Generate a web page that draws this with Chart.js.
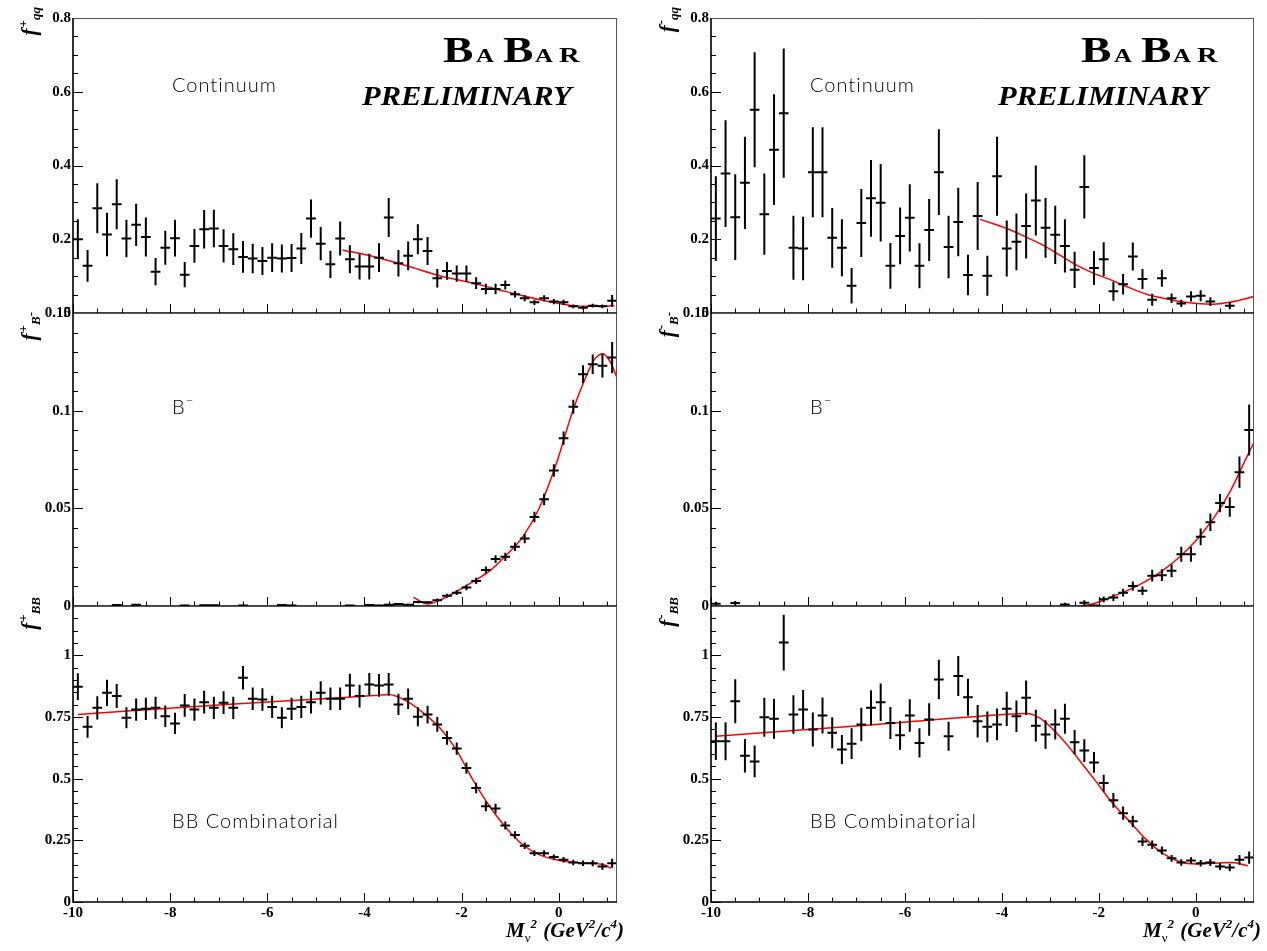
<!DOCTYPE html>
<html><head><meta charset="utf-8">
<script src="https://cdn.jsdelivr.net/npm/chart.js@4.4.1/dist/chart.umd.min.js"></script>
<style>
html,body{margin:0;padding:0;background:#fff;}
#wrap{position:relative;width:1267px;height:951px;overflow:hidden;background:#fff;}
#wrap canvas{position:absolute;left:0;top:0;}
</style></head>
<body><div id="wrap"></div>
<script>
// ---------------- DATA ----------------
const binCenters = [-9.9,-9.7,-9.5,-9.3,-9.1,-8.9,-8.7,-8.5,-8.3,-8.1,-7.9,-7.7,-7.5,-7.3,-7.1,-6.9,-6.7,-6.5,-6.3,-6.1,-5.9,-5.7,-5.5,-5.3,-5.1,-4.9,-4.7,-4.5,-4.3,-4.1,-3.9,-3.7,-3.5,-3.3,-3.1,-2.9,-2.7,-2.5,-2.3,-2.1,-1.9,-1.7,-1.5,-1.3,-1.1,-0.9,-0.7,-0.5,-0.3,-0.1,0.1,0.3,0.5,0.7,0.9,1.1];
const binHalfWidth = 0.1;

const xTickValues = [-10,-8,-6,-4,-2,0];
const yTicksQQ = [0,0.2,0.4,0.6,0.8];
const yTicksB = [0,0.05,0.1,0.15];
const yTicksBB = [0,0.25,0.5,0.75,1];

// f+qq (continuum, left)
const qqPlusVal = [0.200,0.128,0.284,0.213,0.295, 0.202,0.239,0.206,0.112,0.177, 0.203,0.104,0.182,0.227,0.229, 0.182,0.173,0.152,0.148,0.141, 0.150,0.148,0.149,0.175,0.256, 0.188,0.132,0.202,0.146,0.126, 0.126,0.150,0.259,0.135,0.155, 0.200,0.168,0.094,0.114,0.107, 0.107,0.081,0.065,0.065,0.076, 0.051,0.040,0.029,0.040,0.031, 0.029,0.018,0.014,0.020,0.018, 0.033];
const qqPlusErr = [0.054,0.043,0.068,0.059,0.068, 0.051,0.057,0.053,0.037,0.046, 0.050,0.034,0.046,0.052,0.051, 0.045,0.043,0.043,0.040,0.038, 0.039,0.038,0.038,0.042,0.052, 0.045,0.037,0.046,0.038,0.035, 0.035,0.039,0.053,0.036,0.039, 0.041,0.038,0.025,0.024,0.022, 0.022,0.016,0.014,0.014,0.012, 0.009,0.008,0.007,0.008,0.007, 0.007,0.005,0.005,0.005,0.005, 0.016];
const qqPlusFitX = [-4.45,-3.82,-3.13,-2.45,-1.77,-1.08,-0.39,0.29,0.57,0.9,1.15];
const qqPlusFitY = [0.171,0.153,0.128,0.101,0.081,0.058,0.036,0.020,0.018,0.018,0.020];

// f-qq (continuum, right)
const qqMinusVal = [0.256,0.378,0.260,0.353,0.551, 0.268,0.443,0.542,0.177,0.175, 0.382,0.382,0.204,0.177,0.074, 0.244,0.311,0.299,0.128,0.209, 0.258,0.128,0.225,0.382,0.179, 0.247,0.103,0.263,0.101,0.371, 0.175,0.193,0.236,0.305,0.231, 0.212,0.182,0.117,0.342,0.122, 0.146,0.059,0.078,0.153,0.092, 0.036,0.094,0.040,0.026,0.045, 0.047,0.031,null,0.020,null, null];
const qqMinusErr = [0.115,0.145,0.116,0.125,0.156, 0.110,0.150,0.175,0.087,0.086, 0.122,0.122,0.081,0.077,0.048, 0.092,0.104,0.105,0.062,0.077, 0.091,0.061,0.084,0.116,0.085, 0.093,0.055,0.092,0.054,0.107, 0.076,0.077,0.088,0.095,0.081, 0.079,0.072,0.049,0.086,0.046, 0.046,0.026,0.028,0.038,0.027, 0.016,0.023,0.013,0.010,0.014, 0.015,0.012,null,0.010,null, null];
const qqMinusFitX = [-4.45,-3.86,-3.52,-3.18,-2.83,-2.49,-2.15,-1.70,-1.36,-1.02,-0.67,-0.33,0.01,0.36,0.70,1.07,1.2];
const qqMinusFitY = [0.254,0.227,0.207,0.186,0.159,0.132,0.110,0.087,0.068,0.051,0.040,0.031,0.026,0.024,0.029,0.040,0.045];

// f+B- (left middle)
const bPlusVal = [null,null,null,null,0.0005, null,0.0006,null,null,null, null,0.0003,null,0.0004,0.0004, null,null,0.0003,null,null, null,0.0005,0.0003,null,null, null,null,null,0.0002,null, 0.0005,0.0003,0.0007,0.0010,0.0007, 0.0020,0.0019,0.0030,0.0053,0.0068, 0.0095,0.0128,0.0184,0.0240,0.0252, 0.0303,0.0345,0.0456,0.0546,0.0694, 0.0859,0.1020,0.1187,0.1238,0.1230, 0.1272];
const bPlusErr = [null,null,null,null,0.0004, null,0.0004,null,null,null, null,0.0003,null,0.0003,0.0003, null,null,0.0003,null,null, null,0.0004,0.0003,null,null, null,null,null,0.0002,null, 0.0004,0.0003,0.0004,0.0005,0.0004, 0.0006,0.0006,0.0008,0.0010,0.0012, 0.0014,0.0016,0.0018,0.0020,0.0021, 0.0022,0.0024,0.0027,0.0030,0.0032, 0.0034,0.0036,0.0045,0.0050,0.0060, 0.0080];
const bPlusFitX = [-2.99,-2.7,-2.45,-2.11,-1.77,-1.42,-1.08,-0.74,-0.39,-0.05,0.29,0.57,0.74,0.91,1.05,1.2];
const bPlusFitY = [0.0044,0.0010,0.0030,0.0073,0.0124,0.0180,0.0260,0.0354,0.0507,0.0728,0.1000,0.1179,0.1264,0.1292,0.1255,0.1170];

// f-B- (right middle)
const bMinusVal = [0.0012,null,0.0015,null,null, null,null,null,null,null, null,null,null,null,null, null,null,null,null,null, null,null,null,null,null, null,null,null,null,null, null,null,null,null,null, null,0.0008,null,0.0017,0.0002, 0.0034,0.0043,0.0068,0.0102,0.0078, 0.0155,0.0158,0.0180,0.0265,0.0265, 0.0354,0.0429,0.0527,0.0507,0.0685, 0.0901];
const bMinusErr = [0.0010,null,0.0010,null,null, null,null,null,null,null, null,null,null,null,null, null,null,null,null,null, null,null,null,null,null, null,null,null,null,null, null,null,null,null,null, null,0.0008,null,0.0012,0.0006, 0.0015,0.0017,0.0020,0.0024,0.0022, 0.0030,0.0030,0.0033,0.0038,0.0038, 0.0043,0.0045,0.0047,0.0050,0.0080, 0.0130];
const bMinusFitX = [-2.45,-2.05,-1.70,-1.36,-1.02,-0.67,-0.33,0.01,0.36,0.70,1.05,1.2];
const bMinusFitY = [-0.0005,0.0017,0.0051,0.0085,0.0129,0.0184,0.0252,0.0337,0.0447,0.0583,0.0762,0.0838];

// f+BB (left bottom)
const bbPlusVal = [0.873,0.710,0.787,0.848,0.835, 0.747,0.780,0.783,0.787,0.753, 0.724,0.797,0.780,0.810,0.787, 0.808,0.787,0.909,0.824,0.821, 0.791,0.747,0.783,0.791,0.810, 0.848,0.824,0.824,0.878,0.835, 0.882,0.878,0.882,0.801,0.824, 0.751,0.760,0.720,0.665,0.622, 0.543,0.462,0.388,0.379,0.310, 0.272,0.228,0.198,0.198,0.182, 0.171,0.160,0.157,0.157,0.144, 0.157];
const bbPlusErr = [0.054,0.044,0.047,0.053,0.049, 0.043,0.045,0.045,0.045,0.044, 0.043,0.046,0.045,0.046,0.045, 0.046,0.045,0.048,0.046,0.046, 0.045,0.043,0.045,0.045,0.046, 0.047,0.046,0.046,0.047,0.046, 0.046,0.046,0.046,0.043,0.042, 0.039,0.036,0.030,0.028,0.025, 0.023,0.021,0.020,0.019,0.016, 0.015,0.013,0.012,0.012,0.011, 0.011,0.011,0.011,0.012,0.013, 0.018];
const bbPlusFitX = [-9.9,-6.84,-4.5,-3.82,-3.5,-3.13,-2.79,-2.45,-2.11,-1.77,-1.42,-1.08,-0.74,-0.39,-0.05,0.29,0.63,0.91,1.08];
const bbPlusFitY = [0.760,0.801,0.828,0.837,0.841,0.814,0.767,0.706,0.618,0.496,0.387,0.300,0.232,0.191,0.171,0.161,0.157,0.152,0.137];

// f-BB (right bottom)
const bbMinusVal = [0.652,0.652,0.814,0.593,0.570, 0.749,0.743,1.052,0.760,0.780, 0.699,0.756,0.686,0.618,0.642, 0.720,0.787,0.810,0.726,0.676, 0.756,0.645,0.740,0.902,0.672, 0.916,0.830,0.733,0.710,0.720, 0.783,0.753,0.828,0.715,0.679, 0.720,0.743,0.648,0.614,0.566, 0.482,0.412,0.360,0.327,0.245, 0.232,0.209,0.177,0.160,0.168, 0.157,0.160,0.144,0.140,0.171, 0.180];
const bbMinusErr = [0.076,0.077,0.089,0.068,0.064, 0.079,0.081,0.113,0.078,0.079, 0.069,0.073,0.063,0.059,0.062, 0.068,0.071,0.076,0.065,0.059, 0.066,0.059,0.066,0.080,0.059, 0.081,0.075,0.066,0.062,0.064, 0.069,0.064,0.070,0.064,0.058, 0.061,0.061,0.049,0.046,0.042, 0.034,0.030,0.027,0.023,0.018, 0.017,0.016,0.014,0.013,0.013, 0.013,0.014,0.014,0.015,0.020, 0.025];
const bbMinusFitX = [-9.9,-6.79,-4.45,-3.5,-3.2,-2.75,-2.41,-2.06,-1.72,-1.37,-1.03,-0.69,-0.34,0.00,0.35,0.76,1.07];
const bbMinusFitY = [0.672,0.717,0.753,0.764,0.743,0.659,0.577,0.489,0.401,0.327,0.255,0.198,0.164,0.154,0.157,0.160,0.146];

// ---------------- RENDERING ----------------
const W = 1267, H = 951, AXW = 60, AXH = 24;
const SERIF = '"Liberation Serif","Times New Roman",serif';
const LIGHT = '300 20px Lato, "Open Sans", Roboto, sans-serif';

function makeErrorData(vals, errs) {
  const v = [], h = [];
  binCenters.forEach((x, i) => {
    const y = vals[i], e = errs[i];
    if (y === null || y === undefined) return;
    v.push({x: x, y: y - e}, {x: x, y: y + e}, {x: x, y: null});
    h.push({x: x - binHalfWidth, y: y}, {x: x + binHalfWidth, y: y}, {x: x + binHalfWidth, y: null});
  });
  return {v, h};
}
function zip(xs, ys) { return xs.map((x, i) => ({x: x, y: ys[i]})); }
function fmtTick(v) { return String(Math.round(v * 10000) / 10000); }

function drawPieces(ctx, x, y, pieces) {
  let cx = x;
  for (const p of pieces) {
    ctx.font = p.f;
    ctx.fillText(p.t, cx + (p.dx || 0), y + (p.dy || 0));
    cx += ctx.measureText(p.t).width + (p.dx || 0) + (p.after || 0);
  }
  return cx - x;
}
function measurePieces(ctx, pieces) {
  let w = 0;
  for (const p of pieces) { ctx.font = p.f; w += ctx.measureText(p.t).width + (p.dx || 0) + (p.after || 0); }
  return w;
}
function stretchText(ctx, txt, font, x, y, sx) {
  ctx.save(); ctx.font = font; ctx.translate(x, y); ctx.scale(sx, 1); ctx.fillText(txt, 0, 0); ctx.restore();
}

const rootFrame = {
  id: 'rootFrame',
  afterDraw(chart, args, o) {
    const ctx = chart.ctx, a = chart.chartArea, xs = chart.scales.x, ys = chart.scales.y;
    ctx.save();
    // ticks
    ctx.strokeStyle = '#000'; ctx.lineWidth = 1;
    ctx.beginPath();
    for (let v = -10; v <= 1.2001; v += 0.5) {
      const major = Math.abs(v / 2 - Math.round(v / 2)) < 1e-6;
      const px = Math.round(xs.getPixelForValue(v)) + 0.5;
      ctx.moveTo(px, a.bottom); ctx.lineTo(px, a.bottom - (major ? 9 : 4.5));
    }
    const n = Math.round((o.yMax - o.yMin) / o.yMinor);
    for (let k = 0; k <= n; k++) {
      const v = o.yMin + k * o.yMinor;
      const major = o.yTicks.some(t => Math.abs(t - v) < 1e-9);
      const py = Math.round(ys.getPixelForValue(v)) + 0.5;
      ctx.moveTo(a.left, py); ctx.lineTo(a.left + (major ? 10 : 5), py);
    }
    ctx.stroke();
    // frame
    ctx.strokeStyle = '#555'; ctx.lineWidth = 1;
    ctx.beginPath();
    ctx.moveTo(a.left, a.top + 0.5); ctx.lineTo(a.right, a.top + 0.5);
    ctx.moveTo(a.right - 0.5, a.top); ctx.lineTo(a.right - 0.5, a.bottom);
    ctx.stroke();
    ctx.strokeStyle = '#000'; ctx.lineWidth = 1.6;
    ctx.beginPath();
    ctx.moveTo(a.left, a.top); ctx.lineTo(a.left, a.bottom); ctx.lineTo(a.right, a.bottom);
    ctx.stroke();

    ctx.fillStyle = '#000';
    // y-axis title (rotated)
    if (o.ytitle) {
      const tw = measurePieces(ctx, o.ytitle);
      ctx.save();
      ctx.translate(o.ytitleX, o.ytitleTop + tw);
      ctx.rotate(-Math.PI / 2);
      ctx.textBaseline = 'alphabetic'; ctx.textAlign = 'left';
      drawPieces(ctx, 0, 0, o.ytitle);
      ctx.restore();
    }
    // panel label
    if (o.label) {
      ctx.save();
      ctx.textBaseline = 'middle'; ctx.textAlign = 'left';
      ctx.letterSpacing = '1px';
      drawPieces(ctx, a.left + o.labelDx, o.labelY, o.label);
      ctx.restore();
    }
    // BABAR logo
    if (o.logo) {
      ctx.textBaseline = 'alphabetic'; ctx.textAlign = 'left';
      const L = a.left, big = 'bold 35px ' + SERIF, small = 'bold 19px ' + SERIF;
      stretchText(ctx, 'B', big, L + 370, 62, 1.3);
      stretchText(ctx, 'A', small, L + 403, 62, 1.3);
      stretchText(ctx, 'B', big, L + 430, 62, 1.3);
      stretchText(ctx, 'A', small, L + 462, 62, 1.3);
      stretchText(ctx, 'R', 'bold 22px ' + SERIF, L + 486, 62, 1.3);
      stretchText(ctx, 'PRELIMINARY', 'italic bold 28px ' + SERIF, L + o.prelDx, 105, 1.09);
    }
    // x-axis title
    if (o.xtitle) {
      ctx.textBaseline = 'alphabetic'; ctx.textAlign = 'left';
      const bi = 'italic bold 21px ' + SERIF, sm = 'italic bold 13px ' + SERIF;
      const pieces = [
        {t: 'M', f: bi}, {t: 'ν', f: '13px ' + SERIF, dy: 5}, {t: '2', f: sm, dy: -9, after: 1},
        {t: ' (GeV', f: bi}, {t: '2', f: sm, dy: -9}, {t: '/c', f: bi}, {t: '4', f: sm, dy: -9}, {t: ')', f: bi}
      ];
      const tw = measurePieces(ctx, pieces);
      drawPieces(ctx, a.right + 7 - tw, 937, pieces);
    }
    ctx.restore();
  }
};

const fBig = 'italic bold 21px ' + SERIF, fSup = 'bold 13px ' + SERIF, fSub = 'italic bold 13px ' + SERIF;
function yTitle(sign, sub) {
  const p = [{t: 'f', f: fBig, after: 1}, {t: sign, f: fSup, dy: -9}];
  if (sub === 'B-') { p.push({t: 'B', f: fSub, dy: 4}, {t: '-', f: fSup, dy: -1}); }
  else p.push({t: sub, f: fSub, dy: 4});
  return p;
}

const COLS = {L: {left: 73, right: 617, sign: '+'}, R: {left: 711, right: 1254, sign: '-'}};
const ROWS = {
  top: {top: 18, bottom: 313, min: 0, max: 0.8, ticks: yTicksQQ, minor: 0.05, tTop: 7},
  mid: {top: 313, bottom: 606, min: 0, max: 0.15, ticks: yTicksB, minor: 0.01, tTop: 312},
  bot: {top: 606, bottom: 902, min: 0, max: 1.2, ticks: yTicksBB, minor: 0.05, tTop: 597}
};

const MINUS_SUP = {t: '−', f: '300 13px Lato, sans-serif', dy: -7};
const panels = [
  {col: 'L', row: 'top', vals: qqPlusVal, errs: qqPlusErr, fx: qqPlusFitX, fy: qqPlusFitY, sub: 'qq', label: [{t: 'Continuum', f: LIGHT}], labelY: 86, logo: true},
  {col: 'R', row: 'top', vals: qqMinusVal, errs: qqMinusErr, fx: qqMinusFitX, fy: qqMinusFitY, sub: 'qq', label: [{t: 'Continuum', f: LIGHT}], labelY: 86, logo: true},
  {col: 'L', row: 'mid', vals: bPlusVal, errs: bPlusErr, fx: bPlusFitX, fy: bPlusFitY, sub: 'B-', label: [{t: 'B', f: LIGHT}, MINUS_SUP], labelY: 408},
  {col: 'R', row: 'mid', vals: bMinusVal, errs: bMinusErr, fx: bMinusFitX, fy: bMinusFitY, sub: 'B-', label: [{t: 'B', f: LIGHT}, MINUS_SUP], labelY: 408},
  {col: 'L', row: 'bot', vals: bbPlusVal, errs: bbPlusErr, fx: bbPlusFitX, fy: bbPlusFitY, sub: 'BB', label: [{t: 'BB Combinatorial', f: LIGHT}], labelY: 822, xtitle: true},
  {col: 'R', row: 'bot', vals: bbMinusVal, errs: bbMinusErr, fx: bbMinusFitX, fy: bbMinusFitY, sub: 'BB', label: [{t: 'BB Combinatorial', f: LIGHT}], labelY: 822, xtitle: true}
];

const wrap = document.getElementById('wrap');
panels.forEach(p => {
  const c = COLS[p.col], r = ROWS[p.row];
  const cv = document.createElement('canvas');
  cv.width = W; cv.height = H; cv.style.width = W + 'px'; cv.style.height = H + 'px';
  wrap.appendChild(cv);
  const err = makeErrorData(p.vals, p.errs);
  const showX = p.row === 'bot';
  new Chart(cv, {
    type: 'line',
    data: {datasets: [
      {data: err.v, borderColor: '#000', borderWidth: 2, pointRadius: 0, tension: 0, spanGaps: false, fill: false},
      {data: err.h, borderColor: '#000', borderWidth: 2, pointRadius: 0, tension: 0, spanGaps: false, fill: false},
      {data: zip(p.fx, p.fy), borderColor: '#ff0000', borderWidth: 1.5, pointRadius: 0, cubicInterpolationMode: 'monotone', fill: false}
    ]},
    options: {
      responsive: false, animation: false, devicePixelRatio: 1,
      events: [],
      layout: {padding: {left: c.left - AXW, top: r.top, right: W - c.right, bottom: H - r.bottom - AXH}},
      plugins: {
        legend: {display: false}, tooltip: {enabled: false},
        rootFrame: {
          yMin: r.min, yMax: r.max, yMinor: r.minor, yTicks: r.ticks,
          ytitle: yTitle(c.sign, p.sub), ytitleX: c.left - 37, ytitleTop: r.tTop,
          label: p.label, labelY: p.labelY, labelDx: 99,
          logo: p.logo, prelDx: p.col === 'L' ? 289 : 287,
          xtitle: p.xtitle
        }
      },
      scales: {
        x: {
          type: 'linear', min: -10, max: 1.2,
          grid: {display: false, drawTicks: false}, border: {display: false},
          ticks: {display: showX, color: '#000', font: {family: SERIF, weight: 'bold', size: 15}, padding: 2, maxRotation: 0, autoSkip: false, callback: fmtTick},
          afterBuildTicks: s => { s.ticks = xTickValues.map(v => ({value: v})); },
          afterFit: s => { s.height = AXH; }
        },
        y: {
          type: 'linear', min: r.min, max: r.max,
          grid: {display: false, drawTicks: false}, border: {display: false},
          ticks: {color: '#000', font: {family: SERIF, weight: 'bold', size: 15}, padding: 2, autoSkip: false, callback: fmtTick},
          afterBuildTicks: s => { s.ticks = r.ticks.map(v => ({value: v})); },
          afterFit: s => { s.width = AXW; }
        }
      }
    },
    plugins: [rootFrame]
  });
});
</script>
</body></html>
